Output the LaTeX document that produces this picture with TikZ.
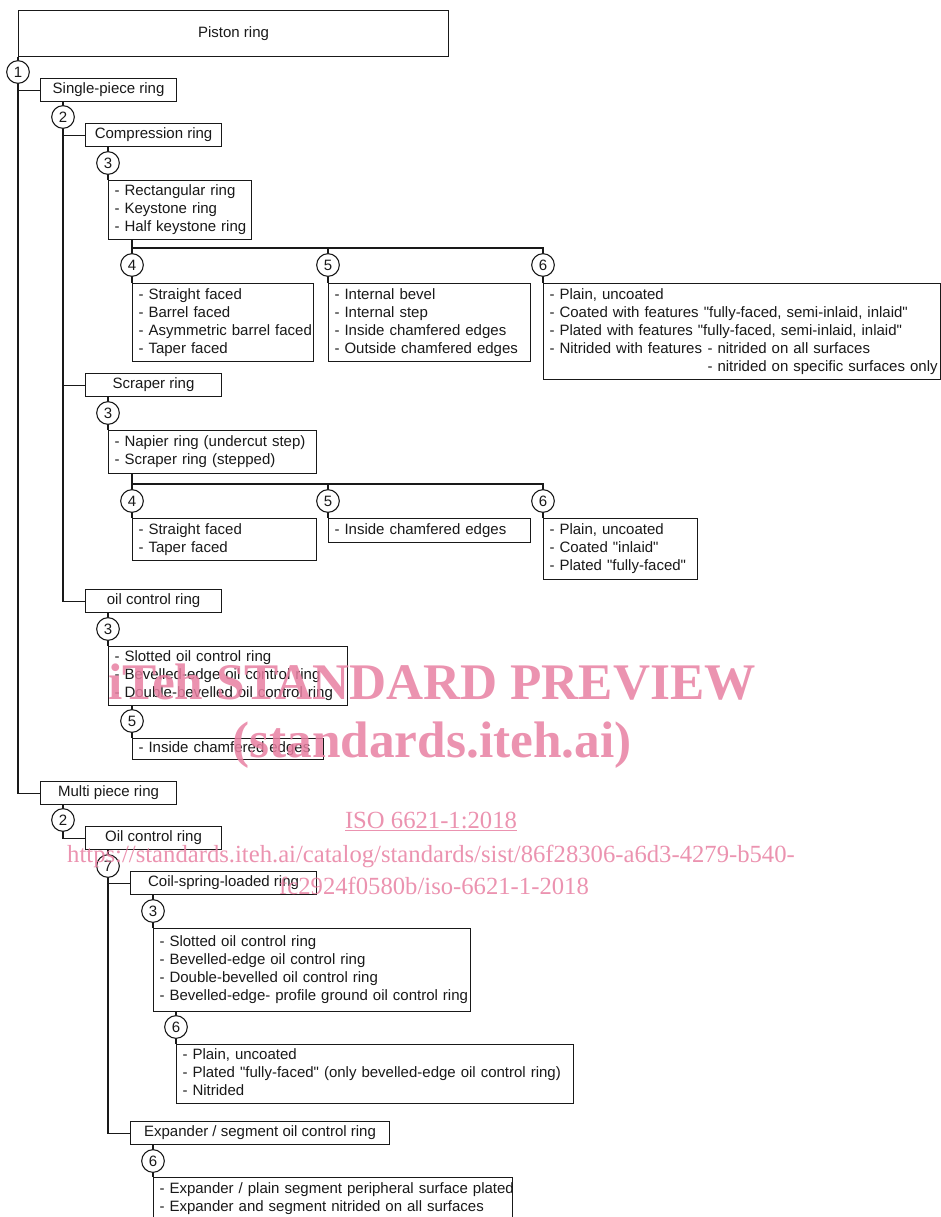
\documentclass[tikz,border=0pt]{standalone}
\usepackage{fontspec}
\setmainfont{Liberation Sans}
\newfontfamily\wmserif{Liberation Serif}
\usetikzlibrary{backgrounds}
\definecolor{wmpink}{RGB}{232,128,162}
\definecolor{inkc}{RGB}{25,25,25}

\newcommand\qq{\XeTeXglyph\XeTeXcharglyph34\relax}
\newcommand\rowsof[1]{\begin{tabular}{@{}l@{}}#1\end{tabular}}
\newcommand\mklist[6]{%
 \pgfmathsetmacro\mybw{(#4-#2)*0.75}%
 \pgfmathsetmacro\mybh{(#5-#3)*0.75}%
 \pgfmathsetmacro\mytw{(#4-#2-12)*0.75}%
 \node[listbox, minimum width=\mybw pt, minimum height=\mybh pt, text width=\mytw pt] (#1) at (#2,#3) {\rowsof{#6}};}
\newcommand\mklabel[6]{%
 \pgfmathsetmacro\mybw{(#4-#2)*0.75}%
 \pgfmathsetmacro\mybh{(#5-#3)*0.75}%
 \node[labelbox, minimum width=\mybw pt, minimum height=\mybh pt] (#1) at (#2,#3) {#6};}

\tikzset{
 base/.style={draw=inkc, line width=0.8pt, font=\fontsize{11.25pt}{13.5pt}\selectfont, text=inkc},
 labelbox/.style={base, anchor=north west, inner sep=0pt, fill=white},
 listbox/.style={base, anchor=north west, inner xsep=4.5pt, inner ysep=0pt, align=left, fill=white},
 num/.style={base, circle, fill=white, minimum size=17pt, inner sep=0pt},
 link/.style={draw=inkc, line width=0.8pt},
 wmbig/.style={text=wmpink, text opacity=0.85, font=\wmserif\bfseries\fontsize{38.5pt}{40pt}\selectfont, anchor=base, inner sep=0pt},
 wmsmall/.style={text=wmpink, text opacity=0.85, font=\wmserif\fontsize{18.5pt}{20pt}\selectfont, anchor=base, inner sep=0pt},
}

\begin{document}
\begin{tikzpicture}[x=0.75pt, y=-0.75pt]
\useasboundingbox (0,0) rectangle (941,1217);
\clip (0,0) rectangle (941,1217);

% boxes
\mklabel{piston}{18}{10}{448}{56}{Piston ring}
\mklabel{single}{40}{78}{176}{101}{Single-piece ring}
\mklabel{comp}{85}{123}{221}{146}{Compression ring}
\mklist{bta}{108}{180}{251}{239}{- Rectangular ring\\- Keystone ring\\- Half keystone ring}
\mklist{bfa}{132}{283}{313}{361}{- Straight faced\\- Barrel faced\\- Asymmetric barrel faced\\- Taper faced}
\mklist{bva}{328}{283}{530}{361}{- Internal bevel\\- Internal step\\- Inside chamfered edges\\- Outside chamfered edges}
\mklist{bsa}{543}{283}{940}{379}{- Plain, uncoated\\- Coated with features \qq fully-faced, semi-inlaid, inlaid\qq\\- Plated with features \qq fully-faced, semi-inlaid, inlaid\qq\\\makebox[118.5pt][l]{- Nitrided with features}- nitrided on all surfaces\\\hspace*{118.5pt}- nitrided on specific surfaces only}
\mklabel{scraper}{85}{373}{221}{396}{Scraper ring}
\mklist{btb}{108}{430}{316}{473}{- Napier ring (undercut step)\\- Scraper ring (stepped)}
\mklist{bfb}{132}{518}{316}{560}{- Straight faced\\- Taper faced}
\mklist{bvb}{328}{518}{530}{542}{- Inside chamfered edges}
\mklist{bsb}{543}{518}{697}{579}{- Plain, uncoated\\- Coated \qq inlaid\qq\\- Plated \qq fully-faced\qq}
\mklabel{oila}{85}{589}{221}{612}{oil control ring}
\mklist{btc}{108}{646}{347}{705}{- Slotted oil control ring\\- Bevelled-edge oil control ring\\- Double-bevelled oil control ring}
\mklist{bvc}{132}{738}{323}{759}{- Inside chamfered edges}
\mklabel{multi}{40}{781}{176}{804}{Multi piece ring}
\mklabel{oilb}{85}{826}{221}{849}{Oil control ring}
\mklabel{coil}{130}{871}{316}{894}{Coil-spring-loaded ring}
\mklist{btd}{153}{928}{470}{1011}{- Slotted oil control ring\\- Bevelled-edge oil control ring\\- Double-bevelled oil control ring\\- Bevelled-edge- profile ground oil control ring}
\mklist{bsd}{176}{1044}{573}{1103}{- Plain, uncoated\\- Plated \qq fully-faced\qq\ (only bevelled-edge oil control ring)\\- Nitrided}
\mklabel{expd}{130}{1121}{389}{1144}{Expander / segment oil control ring}
\mklist{bse}{153}{1177}{512}{1219}{- Expander / plain segment peripheral surface plated\\- Expander and segment nitrided on all surfaces}

% numbered circles
\node[num] (c1) at (18,72) {1};
\node[num] (c2s) at (63,117) {2};
\node[num] (c3a) at (108,163) {3};
\node[num] (c4a) at (132,265) {4};
\node[num] (c5a) at (328,265) {5};
\node[num] (c6a) at (543,265) {6};
\node[num] (c3b) at (108,413) {3};
\node[num] (c4b) at (132,501) {4};
\node[num] (c5b) at (328,501) {5};
\node[num] (c6b) at (543,501) {6};
\node[num] (c3c) at (108,629) {3};
\node[num] (c5c) at (132,721) {5};
\node[num] (c2m) at (63,820) {2};
\node[num] (c7) at (108,866) {7};
\node[num] (c3d) at (153,911) {3};
\node[num] (c6d) at (176,1027) {6};
\node[num] (c6e) at (153,1161) {6};

\coordinate (bara) at (132,248);
\coordinate (barb) at (132,484);

\begin{scope}[on background layer]
\draw[link] (piston.south west) |- (single.west);
\draw[link] (piston.south west) |- (multi.west);
\draw[link] (c2s |- single.south) |- (comp.west);
\draw[link] (c2s |- single.south) |- (scraper.west);
\draw[link] (c2s |- single.south) |- (oila.west);
\draw[link] (c3a |- comp.south) -- (bta.north west);
\draw[link] (c4a |- bta.south) -- (bfa.north west);
\draw[link] (bara) -| (bsa.north west);
\draw[link] (c5a |- bara) -- (bva.north west);
\draw[link] (c3b |- scraper.south) -- (btb.north west);
\draw[link] (c4b |- btb.south) -- (bfb.north west);
\draw[link] (barb) -| (bsb.north west);
\draw[link] (c5b |- barb) -- (bvb.north west);
\draw[link] (c3c |- oila.south) -- (btc.north west);
\draw[link] (c5c |- btc.south) -- (bvc.north west);
\draw[link] (c2m |- multi.south) |- (oilb.west);
\draw[link] (c7 |- oilb.south) |- (coil.west);
\draw[link] (c7 |- oilb.south) |- (expd.west);
\draw[link] (c3d |- coil.south) -- (btd.north west);
\draw[link] (c6d |- btd.south) -- (bsd.north west);
\draw[link] (c6e |- expd.south) -- (bse.north west);
\end{scope}

% watermark
\node[wmbig] (wma) at (432,699) {iTeh STANDARD PREVIEW};
\node[wmbig] (wmb) at (432,757) {(standards.iteh.ai)};
\node[wmsmall] (wmc) at (431,828) {\underline{ISO 6621-1:2018}};
\node[wmsmall] (wmd) at (431,862) {https://standards.iteh.ai/catalog/standards/sist/86f28306-a6d3-4279-b540-};
\node[wmsmall] (wme) at (434,894) {fc2924f0580b/iso-6621-1-2018};
\end{tikzpicture}
\end{document}
